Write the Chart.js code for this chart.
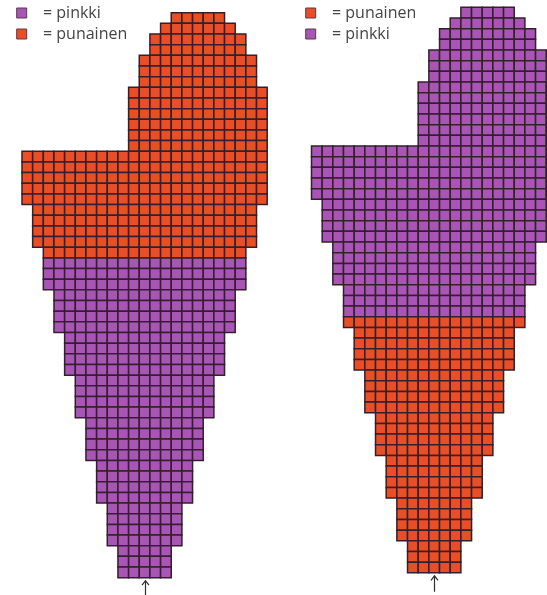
<!DOCTYPE html>
<html>
<head>
<meta charset="utf-8">
<script src="https://cdn.jsdelivr.net/npm/chart.js@4.4.1/dist/chart.umd.min.js"></script>
<style>
  html, body { margin: 0; padding: 0; background: #ffffff; overflow: hidden; width: 547px; height: 595px; }
  .wrap { position: absolute; top: 0; height: 595px; overflow: hidden; }
  #wrapL { left: 0; width: 290px; }
  #wrapR { left: 290px; width: 257px; }
</style>
</head>
<body>
<div class="wrap" id="wrapL"><canvas id="chartL" width="290" height="595"></canvas></div>
<div class="wrap" id="wrapR"><canvas id="chartR" width="257" height="595"></canvas></div>
<script>
// ---- DATA ----
// first and last stitch column (0-based) for each chart row, top row first
const rowFirstCol = [14, 13, 12, 12, 11, 11, 11, 10, 10, 10, 10, 10, 10,
                     0, 0, 0, 0, 0,
                     1, 1, 1, 1,
                     2, 2, 2, 2,
                     3, 3, 3, 3,
                     4, 4, 4, 4,
                     5, 5, 5, 5,
                     6, 6, 6, 6,
                     7, 7, 7, 7,
                     8, 8, 8, 8,
                     9, 9, 9];
const rowLastCol  = [18, 19, 20, 20, 21, 21, 21, 22, 22, 22, 22, 22, 22,
                     22, 22, 22, 22, 22,
                     21, 21, 21, 21,
                     20, 20, 20, 20,
                     19, 19, 19, 19,
                     18, 18, 18, 18,
                     17, 17, 17, 17,
                     16, 16, 16, 16,
                     15, 15, 15, 15,
                     14, 14, 14, 14,
                     13, 13, 13];
// colour names used in the legends
const colourNames = ['pinkki', 'punainen'];
// per chart (left, right): colour of the upper part, colour of the lower part, first row of the lower part
const upperColour = ['punainen', 'pinkki'];
const lowerColour = ['pinkki', 'punainen'];
const splitRow = [23, 29];
// legend order per chart
const legendOrderL = ['pinkki', 'punainen'];
const legendOrderR = ['punainen', 'pinkki'];

// ---- STYLE ----
const fills = { pinkki: '#a855b6', punainen: '#ea4e26' };
const gridLine = '#33202c';
const textColour = '#454545';

function cellsFor(chartIdx, name) {
  const pts = [];
  for (let r = 0; r < rowFirstCol.length; r++) {
    const col = r < splitRow[chartIdx] ? upperColour[chartIdx] : lowerColour[chartIdx];
    if (col !== name) continue;
    for (let c = rowFirstCol[r]; c <= rowLastCol[r]; c++) {
      pts.push({ x: c + 0.5, y: r + 0.5 });
    }
  }
  return pts;
}

const arrowPlugin = {
  id: 'startArrow',
  afterDatasetsDraw(chart) {
    const { ctx, scales: { x, y } } = chart;
    const last = rowFirstCol.length - 1;
    const cx = Math.round(x.getPixelForValue((rowFirstCol[last] + rowLastCol[last] + 1) / 2)) + 0.5;
    const top = y.getPixelForValue(rowFirstCol.length);
    ctx.save();
    ctx.strokeStyle = '#2e2e2e';
    ctx.lineWidth = 1.2;
    ctx.beginPath();
    ctx.moveTo(cx, top + 3);
    ctx.lineTo(cx, top + 19);
    ctx.moveTo(cx - 3.5, top + 7.5);
    ctx.lineTo(cx, top + 3);
    ctx.lineTo(cx + 3.5, top + 7.5);
    ctx.stroke();
    ctx.restore();
  }
};

function makeChart(canvasId, chartIdx, order, geom) {
  const W = geom.width, H = 595;
  const xMin = -(geom.x0 - geom.padL) / geom.cell;
  const xMax = xMin + (W - geom.padL) / geom.cell;
  const yMin = -(geom.y0 - geom.padT) / geom.cell;
  const yMax = yMin + (H - geom.padT) / geom.cell;
  const radius = (ctx) => {
    const sx = ctx.chart.scales.x;
    return Math.abs(sx.getPixelForValue(1) - sx.getPixelForValue(0)) / Math.SQRT2;
  };
  return new Chart(document.getElementById(canvasId), {
    type: 'scatter',
    data: {
      datasets: order.map(name => ({
        label: name,
        data: cellsFor(chartIdx, name),
        backgroundColor: fills[name],
        borderColor: gridLine,
        borderWidth: 1.5,
        pointStyle: 'rect',
        pointRadius: radius,
        pointHoverRadius: radius,
        clip: false
      }))
    },
    options: {
      responsive: false,
      animation: false,
      events: [],
      layout: { padding: { left: geom.padL, top: geom.padT, right: 0, bottom: 0 } },
      scales: {
        x: { type: 'linear', display: false, min: xMin, max: xMax },
        y: { type: 'linear', display: false, reverse: true, min: yMin, max: yMax }
      },
      plugins: {
        tooltip: { enabled: false },
        legend: {
          position: 'chartArea',
          align: 'start',
          labels: {
            boxWidth: 10,
            boxHeight: 10,
            padding: 5,
            color: textColour,
            font: { family: '"Open Sans", sans-serif', size: 16 },
            generateLabels(chart) {
              const items = Chart.defaults.plugins.legend.labels.generateLabels(chart);
              items.forEach(it => {
                it.text = '  = ' + it.text;
                it.lineWidth = 1;
                it.strokeStyle = '#5a3a48';
              });
              return items;
            }
          }
        }
      }
    },
    plugins: [arrowPlugin]
  });
}

makeChart('chartL', 0, legendOrderL, { width: 290, x0: 22, y0: 12.7, cell: 10.66, padL: 11.7, padT: 10 });
makeChart('chartR', 1, legendOrderR, { width: 257, x0: 21.5, y0: 7.3, cell: 10.67, padL: 10.7, padT: 3.7 });
</script>
</body>
</html>
